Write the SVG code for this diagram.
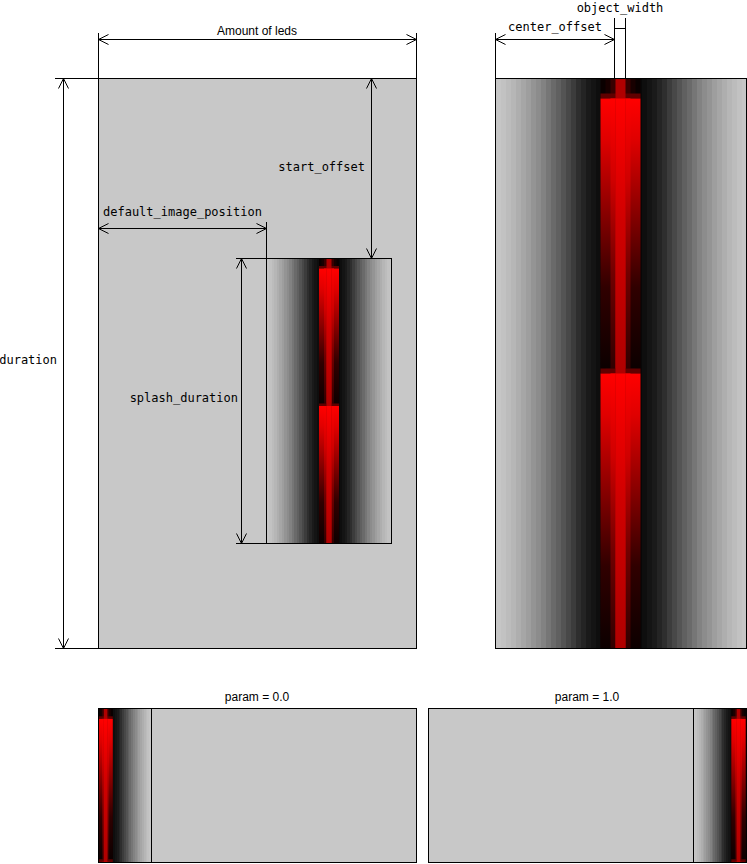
<svg xmlns="http://www.w3.org/2000/svg" xmlns:xlink="http://www.w3.org/1999/xlink" width="747" height="864" viewBox="0 0 747 864">
<style>
.frame{fill:#c8c8c8;stroke:#000;stroke-width:1}
.box{fill:none;stroke:#000;stroke-width:1}
.ln{stroke:#000;stroke-width:1;fill:none}
.arr{stroke:#000;stroke-width:1;fill:none;marker-start:url(#ah);marker-end:url(#ah)}
.mono{font-family:"DejaVu Sans Mono","Liberation Mono",monospace;font-size:12px;fill:#000}
.sans{font-family:"Liberation Sans",Arial,sans-serif;font-size:12px;fill:#000}
</style>
<defs>
<marker id="ah" viewBox="-11 -6 12 12" markerWidth="12" markerHeight="12" refX="0" refY="0" orient="auto-start-reverse" markerUnits="userSpaceOnUse">
<path d="M-10,-5 L0,0 L-10,5" fill="none" stroke="#000" stroke-width="1"/>
</marker>
<linearGradient id="fadeOuter" x1="0" y1="0" x2="0" y2="1">
<stop offset="0" stop-color="#ff0000"/>
<stop offset="0.15" stop-color="#e00000"/>
<stop offset="0.4" stop-color="#900000"/>
<stop offset="0.7" stop-color="#300000"/>
<stop offset="1" stop-color="#0c0000"/>
</linearGradient>
<linearGradient id="fadeHalo" x1="0" y1="0" x2="0" y2="1">
<stop offset="0" stop-color="#ff0000"/>
<stop offset="0.3" stop-color="#d00000"/>
<stop offset="0.65" stop-color="#700000"/>
<stop offset="1" stop-color="#300000"/>
</linearGradient>
<linearGradient id="fadeCore" x1="0" y1="0" x2="0" y2="1">
<stop offset="0" stop-color="#ff0000"/>
<stop offset="0.45" stop-color="#d00000"/>
<stop offset="1" stop-color="#b00000"/>
</linearGradient>
<g id="stripes" shape-rendering="crispEdges">
<rect x="0" y="0" width="251" height="570" fill="#000"/>
<rect x="0" width="5" height="570" fill="#c6c6c6"/><rect x="246" width="5" height="570" fill="#c6c6c6"/>
<rect x="5" width="5" height="570" fill="#c2c2c2"/><rect x="241" width="5" height="570" fill="#c2c2c2"/>
<rect x="10" width="5" height="570" fill="#bcbcbc"/><rect x="236" width="5" height="570" fill="#bcbcbc"/>
<rect x="15" width="5" height="570" fill="#b6b6b6"/><rect x="231" width="5" height="570" fill="#b6b6b6"/>
<rect x="20" width="5" height="570" fill="#aeaeae"/><rect x="226" width="5" height="570" fill="#aeaeae"/>
<rect x="25" width="5" height="570" fill="#a6a6a6"/><rect x="221" width="5" height="570" fill="#a6a6a6"/>
<rect x="30" width="5" height="570" fill="#9e9e9e"/><rect x="216" width="5" height="570" fill="#9e9e9e"/>
<rect x="35" width="5" height="570" fill="#949494"/><rect x="211" width="5" height="570" fill="#949494"/>
<rect x="40" width="5" height="570" fill="#8c8c8c"/><rect x="206" width="5" height="570" fill="#8c8c8c"/>
<rect x="45" width="5" height="570" fill="#828282"/><rect x="201" width="5" height="570" fill="#828282"/>
<rect x="50" width="5" height="570" fill="#767676"/><rect x="196" width="5" height="570" fill="#767676"/>
<rect x="55" width="5" height="570" fill="#6a6a6a"/><rect x="191" width="5" height="570" fill="#6a6a6a"/>
<rect x="60" width="5" height="570" fill="#606060"/><rect x="186" width="5" height="570" fill="#606060"/>
<rect x="65" width="5" height="570" fill="#545454"/><rect x="181" width="5" height="570" fill="#545454"/>
<rect x="70" width="5" height="570" fill="#484848"/><rect x="176" width="5" height="570" fill="#484848"/>
<rect x="75" width="5" height="570" fill="#3c3c3c"/><rect x="171" width="5" height="570" fill="#3c3c3c"/>
<rect x="80" width="5" height="570" fill="#2e2e2e"/><rect x="166" width="5" height="570" fill="#2e2e2e"/>
<rect x="85" width="5" height="570" fill="#242424"/><rect x="161" width="5" height="570" fill="#242424"/>
<rect x="90" width="5" height="570" fill="#1a1a1a"/><rect x="156" width="5" height="570" fill="#1a1a1a"/>
<rect x="95" width="5" height="570" fill="#141414"/><rect x="151" width="5" height="570" fill="#141414"/>
<rect x="100" width="5" height="570" fill="#0e0e0e"/><rect x="146" width="5" height="570" fill="#0e0e0e"/>
<rect x="105" width="5" height="570" fill="#080808"/><rect x="141" width="5" height="570" fill="#080808"/>
<rect x="110" width="5" height="570" fill="#040404"/><rect x="136" width="5" height="570" fill="#040404"/>
</g>
<g id="strip">
<use xlink:href="#stripes" href="#stripes"/>
<rect x="105" y="0" width="40" height="570" fill="#0a0000"/>
<rect x="110" y="0" width="30" height="570" fill="#180000"/>
<rect x="115" y="0" width="20" height="570" fill="#380000"/>
<rect x="105" y="15" width="40" height="5" fill="#600000"/>
<rect x="105" y="20" width="40" height="270" fill="url(#fadeOuter)"/>
<rect x="115" y="20" width="20" height="270" fill="url(#fadeHalo)"/>
<rect x="105" y="290" width="40" height="5" fill="#600000"/>
<rect x="105" y="295" width="40" height="275" fill="url(#fadeOuter)"/>
<rect x="115" y="295" width="20" height="275" fill="url(#fadeHalo)"/>
<rect x="120" y="0" width="10" height="570" fill="#b00000"/>
<rect x="120" y="20" width="10" height="270" fill="url(#fadeCore)"/>
<rect x="120" y="295" width="10" height="275" fill="url(#fadeCore)"/>
</g>
<clipPath id="clipL"><rect x="98.5" y="708.5" width="318" height="154"/></clipPath>
<clipPath id="clipR"><rect x="428.5" y="708.5" width="318" height="154"/></clipPath>
</defs>

<g id="timeline-panel">
<rect class="frame" x="98.5" y="78.5" width="318" height="570"/>
</g>

<g id="splash-image">
<use xlink:href="#strip" href="#strip" transform="translate(266.5,258.5) scale(0.5)"/>
<rect class="box" x="266.5" y="258.5" width="125" height="285"/>
</g>

<g id="object-panel">
<use xlink:href="#strip" href="#strip" transform="translate(495.5,78.5)"/>
<rect class="box" x="495.5" y="78.5" width="251" height="570"/>
</g>

<g id="param0-panel">
<rect class="frame" x="98.5" y="708.5" width="318" height="154"/>
<g clip-path="url(#clipL)">
<use xlink:href="#strip" href="#strip" transform="translate(60.6,708.5) scale(0.36,0.52)"/>
</g>
<line class="ln" x1="151.5" y1="708.5" x2="151.5" y2="862.5"/>
<rect class="box" x="98.5" y="708.5" width="318" height="154"/>
<text class="sans" x="257" y="701" text-anchor="middle">param = 0.0</text>
</g>

<g id="param1-panel">
<rect class="frame" x="428.5" y="708.5" width="318" height="154"/>
<g clip-path="url(#clipR)">
<use xlink:href="#strip" href="#strip" transform="translate(693.5,708.5) scale(0.36,0.52)"/>
</g>
<line class="ln" x1="693.5" y1="708.5" x2="693.5" y2="862.5"/>
<rect class="box" x="428.5" y="708.5" width="318" height="154"/>
<text class="sans" x="587" y="701" text-anchor="middle">param = 1.0</text>
</g>

<g id="connectors">
<line class="ln" x1="98.5" y1="33" x2="98.5" y2="78.5"/>
<line class="ln" x1="416.5" y1="33" x2="416.5" y2="78.5"/>
<line class="arr" x1="98.5" y1="39.5" x2="416.5" y2="39.5"/>
<line class="ln" x1="55" y1="78.5" x2="98.5" y2="78.5"/>
<line class="ln" x1="55" y1="648.5" x2="98.5" y2="648.5"/>
<line class="arr" x1="63.5" y1="78.5" x2="63.5" y2="648.5"/>
<line class="arr" x1="371.5" y1="78.5" x2="371.5" y2="258.5"/>
<line class="ln" x1="266.5" y1="222" x2="266.5" y2="258.5"/>
<line class="arr" x1="98.5" y1="228.5" x2="266.5" y2="228.5"/>
<line class="ln" x1="236" y1="258.5" x2="266.5" y2="258.5"/>
<line class="ln" x1="236" y1="543.5" x2="266.5" y2="543.5"/>
<line class="arr" x1="241.5" y1="258.5" x2="241.5" y2="543.5"/>
<line class="ln" x1="495.5" y1="33" x2="495.5" y2="78.5"/>
<line class="ln" x1="614.5" y1="18" x2="614.5" y2="78.5"/>
<line class="ln" x1="625.5" y1="18" x2="625.5" y2="78.5"/>
<line class="arr" x1="495.5" y1="39.5" x2="614.5" y2="39.5"/>
<line class="ln" x1="614.5" y1="28.5" x2="625.5" y2="28.5"/>
</g>

<g id="labels">
<text class="sans" x="257" y="35" text-anchor="middle">Amount of leds</text>
<text class="mono" x="57" y="364" text-anchor="end">duration</text>
<text class="mono" x="365" y="171" text-anchor="end">start_offset</text>
<text class="mono" x="103" y="216">default_image_position</text>
<text class="mono" x="238" y="402" text-anchor="end">splash_duration</text>
<text class="mono" x="555" y="31" text-anchor="middle">center_offset</text>
<text class="mono" x="620" y="12" text-anchor="middle">object_width</text>
</g>
</svg>
